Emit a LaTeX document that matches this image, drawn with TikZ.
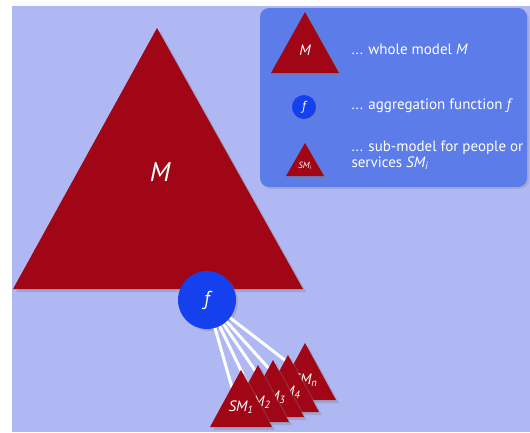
\documentclass[tikz,border=0pt]{standalone}
\usepackage{fontspec}
\setmainfont{PT Sans}
\usetikzlibrary{positioning,shadows,calc}
\definecolor{bgblue}{RGB}{176,184,244}
\definecolor{boxblue}{RGB}{92,124,234}
\definecolor{modelred}{RGB}{160,6,22}
\definecolor{funcblue}{RGB}{20,64,238}

\tikzset{
  model/.style={fill=modelred, drop shadow={shadow xshift=3pt, shadow yshift=-3pt, opacity=.35}},
  func/.style={circle, fill=funcblue, text=white, inner sep=0pt, drop shadow={shadow xshift=2pt, shadow yshift=-2pt, opacity=.35}},
  link/.style={white, line width=3pt},
  lbl/.style={text=white},
  legtext/.style={text=white, anchor=west, align=left, font=\fontsize{15}{16}\selectfont}
}

\begin{document}
\begin{tikzpicture}[x=1pt,y=-1pt]
  \useasboundingbox (0,0) rectangle (530,432);
  \fill[bgblue] (12,6) rectangle (530,432);

  % legend
  \fill[boxblue, rounded corners=9pt, drop shadow={shadow xshift=2pt, shadow yshift=-2pt, opacity=.25}] (260,8) rectangle (527,187);
  \fill[model] (305,12) -- (339,73) -- (271,73) -- cycle;
  \node[lbl, font=\fontsize{15}{15}\selectfont\itshape] (legM) at (305,50) {M};
  \node[func, minimum size=24pt, font=\fontsize{13}{13}\selectfont\itshape] (legf) at (304,107) {f};
  \fill[model] (305,143) -- (324,176) -- (286,176) -- cycle;
  \node[lbl, font=\fontsize{9}{9}\selectfont\itshape] (legSM) at (305,166) {SM\textsubscript{i}};
  \node[legtext] (txtM) at (348,49) {... whole model \textit{M}};
  \node[legtext] (txtf) at (348,106) {... aggregation function \textit{f}};
  \node[legtext] (txtSM) at (348,155) {... sub-model for people or\\services \textit{SM\textsubscript{i}}};

  % whole model
  \fill[model] (157,28) -- (303,289) -- (13,289) -- cycle;
  \node[lbl, font=\fontsize{27}{27}\selectfont\itshape] (bigM) at (160,172) {M};

  % aggregation
  \node[func, minimum size=58pt, font=\fontsize{20}{20}\selectfont\itshape] (f) at (207,300) {f};

  % sub-models
  \foreach \k/\x/\y in {1/241/370, 2/258/365, 3/273/360, 4/288/355, n/305/343} {
    \coordinate (sm\k) at (\x,\y);
    \coordinate (end\k) at (\x-6,\y+28);
  }
  \foreach \k in {1,2,3,4,n}
    \draw[link] (f) -- (end\k);
  \foreach \k in {n,4,3,2,1} {
    \fill[model] (sm\k) -- ++(31,57) -- ++(-62,0) -- cycle;
    \node[lbl, font=\fontsize{15}{15}\selectfont\itshape] (lab\k) at ($(sm\k)+(0,37)$) {SM\textsubscript{\k}};
  }
\end{tikzpicture}
\end{document}
